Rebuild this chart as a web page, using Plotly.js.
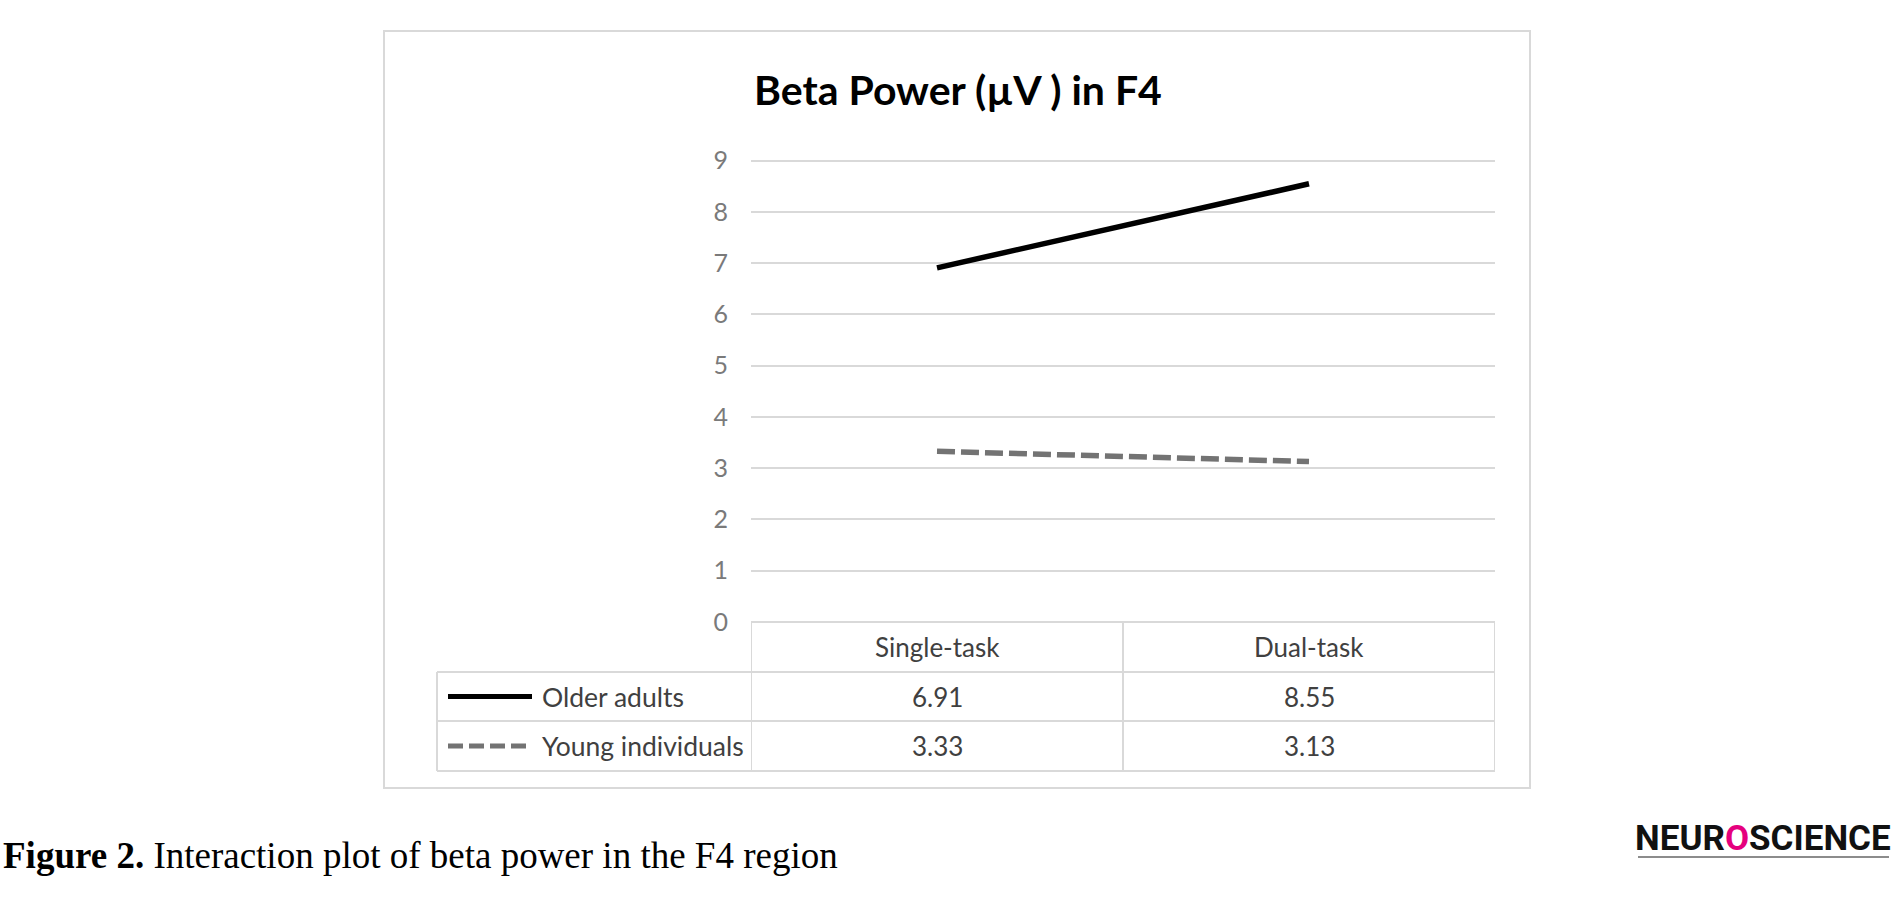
<!DOCTYPE html>
<html>
<head>
<meta charset="utf-8">
<script src="https://cdn.plot.ly/plotly-3.0.1.min.js"></script>
<style>
  html, body { margin: 0; padding: 0; background: #ffffff; }
  #chart { width: 1894px; height: 907px; }
</style>
</head>
<body>
<div id="chart"></div>
<script>
// ---- data ----
const titleText = "Beta Power (µV ) in F4";
const categories = ["Single-task", "Dual-task"];
const seriesNames = ["Older adults", "Young individuals"];
const olderAdults = [6.91, 8.55];
const youngIndividuals = [3.33, 3.13];
const yTicks = [0, 1, 2, 3, 4, 5, 6, 7, 8, 9];
const captionBold = "Figure 2.";
const captionText = " Interaction plot of beta power in the F4 region";

// ---- helpers: pixel to paper ----
const W = 1894, H = 907;
const px = x => x / W;
const py = y => 1 - y / H;

const GRID = "#d9d9d9";
const FONT = "Lato, 'Open Sans', sans-serif";
const blackLine = { color: "#000000", width: 5.5 };
const grayLine = { color: "#737373", width: 5.5, dash: "18px,6px" };

const traces = [
  { type: "scatter", mode: "lines", name: seriesNames[0], x: categories, y: olderAdults, line: blackLine, hoverinfo: "x+y+name" },
  { type: "scatter", mode: "lines", name: seriesNames[1], x: categories, y: youngIndividuals, line: grayLine, hoverinfo: "x+y+name" }
];

const tableTop = 622, row1 = 672, row2 = 721, tableBottom = 771;
const tableLeft = 437;
const rowCenters = [(row1 + row2) / 2, (row2 + tableBottom) / 2];
const headerCenter = (tableTop + row1) / 2;

const shapes = [];
function hline(y, x0, x1, x0ref) {
  shapes.push({ type: "line", xref: x0ref || "paper", yref: "paper", x0: x0, x1: x1, y0: py(y), y1: py(y), line: { color: GRID, width: 2 } });
}
function vline(xref, x, y0, y1) {
  shapes.push({ type: "line", xref: xref, yref: "paper", x0: x, x1: x, y0: py(y0), y1: py(y1), line: { color: GRID, width: 2 } });
}
// outer frame
shapes.push({ type: "rect", xref: "paper", yref: "paper", x0: px(384), x1: px(1530), y0: py(788), y1: py(31), line: { color: GRID, width: 2 } });
// data table
hline(tableTop, -0.5, 1.5, "x");
[row1, row2, tableBottom].forEach(y => hline(y, px(tableLeft), px(1495)));
vline("x", -0.5, tableTop, tableBottom);
vline("x", 0.5, tableTop, tableBottom);
vline("x", 1.5, tableTop, tableBottom);
vline("paper", px(tableLeft), row1, tableBottom);
// legend keys in table
shapes.push({ type: "line", xref: "paper", yref: "paper", x0: px(448), x1: px(532), y0: py(rowCenters[0]), y1: py(rowCenters[0]), line: { color: blackLine.color, width: 5 } });
shapes.push({ type: "line", xref: "paper", yref: "paper", x0: px(448), x1: px(532), y0: py(rowCenters[1]), y1: py(rowCenters[1]), line: { color: grayLine.color, width: 5, dash: "15px,6px" } });
// logo underline
shapes.push({ type: "line", xref: "paper", yref: "paper", x0: px(1638), x1: px(1889), y0: py(857), y1: py(857), line: { color: "#8c8c8c", width: 2 } });

const annotations = [];
const cellFont = { family: FONT, size: 26, color: "#404040" };
categories.forEach((c, i) => {
  annotations.push({ xref: "x", yref: "paper", x: c, y: py(headerCenter), text: c, showarrow: false, xanchor: "center", yanchor: "middle", font: cellFont });
});
const seriesValues = [olderAdults, youngIndividuals];
seriesNames.forEach((n, r) => {
  annotations.push({ xref: "paper", yref: "paper", x: px(540), y: py(rowCenters[r]), text: n, showarrow: false, xanchor: "left", yanchor: "middle", font: { family: FONT, size: 26.5, color: "#404040" } });
  seriesValues[r].forEach((v, i) => {
    annotations.push({ xref: "x", yref: "paper", x: categories[i], y: py(rowCenters[r]), text: v.toFixed(2), showarrow: false, xanchor: "center", yanchor: "middle", font: cellFont });
  });
});
// caption
annotations.push({ xref: "paper", yref: "paper", x: px(1), y: py(855), xanchor: "left", yanchor: "middle", showarrow: false,
  text: "<b>" + captionBold + "</b>" + captionText,
  font: { family: "'Liberation Serif', 'DejaVu Serif', serif", size: 37, color: "#000000" } });
// logo
annotations.push({ xref: "paper", yref: "paper", x: px(1763), y: py(838), xanchor: "center", yanchor: "middle", showarrow: false,
  text: "<b>NEUR<span style='color:#e5007e'>O</span>SCIENCE</b>",
  font: { family: "Roboto, 'DejaVu Sans', sans-serif", size: 35, color: "#111111" } });

const yMax = 9.03;
const pxPerUnit = (622 - 160.7) / 9;
const layout = {
  width: W, height: H,
  paper_bgcolor: "#ffffff", plot_bgcolor: "#ffffff",
  margin: { l: 0, r: 0, t: 0, b: 0 },
  showlegend: false,
  title: { text: "<b>" + titleText + "</b>", x: px(958), xanchor: "center", y: py(91), yanchor: "middle", font: { family: FONT, size: 41, color: "#000000" } },
  xaxis: { type: "category", domain: [px(751), px(1495)], range: [-0.5, 1.5], showgrid: false, zeroline: false, showticklabels: false, ticks: "", showline: false },
  yaxis: { domain: [py(622), py(622 - yMax * pxPerUnit)], range: [0, yMax], tickvals: yTicks, ticktext: yTicks.map(String), showgrid: true, gridcolor: GRID, gridwidth: 2, zeroline: false, showline: false, ticks: "", ticklabelstandoff: 22, tickfont: { family: FONT, size: 25, color: "#7a7a7a" } },
  shapes: shapes,
  annotations: annotations
};

Plotly.newPlot("chart", traces, layout, { staticPlot: true, displayModeBar: false });
</script>
</body>
</html>
